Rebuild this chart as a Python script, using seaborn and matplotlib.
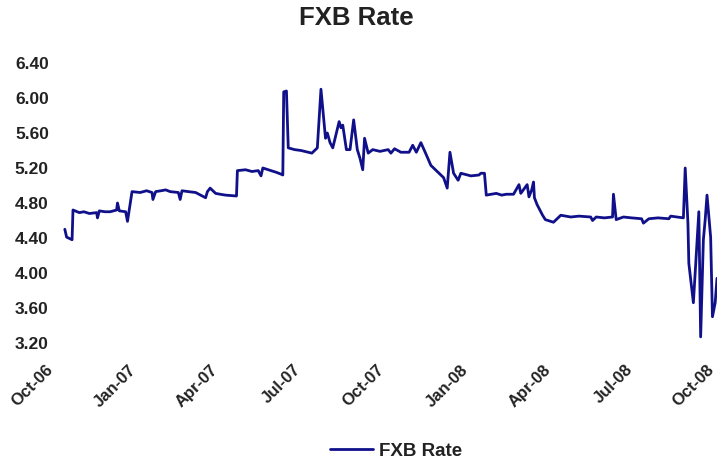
import pandas as pd
import numpy as np
import matplotlib
matplotlib.use("Agg")
import matplotlib.pyplot as plt
import matplotlib.dates as mdates
import matplotlib.transforms as mtransforms
import seaborn as sns

# FXB rate readings (date, value)
dates = [
    "2006-10-14", "2006-10-16", "2006-10-22", "2006-10-23", "2006-10-30", "2006-11-04",
    "2006-11-10", "2006-11-18", "2006-11-19", "2006-11-21", "2006-11-27", "2006-12-03",
    "2006-12-10", "2006-12-11", "2006-12-13", "2006-12-20", "2006-12-22", "2006-12-27",
    "2007-01-05", "2007-01-12", "2007-01-18", "2007-01-19", "2007-01-22", "2007-01-28",
    "2007-02-02", "2007-02-07", "2007-02-16", "2007-02-18", "2007-02-20", "2007-02-27",
    "2007-03-07", "2007-03-18", "2007-03-20", "2007-03-23", "2007-03-29", "2007-04-03",
    "2007-04-09", "2007-04-21", "2007-04-22", "2007-05-01", "2007-05-08", "2007-05-15",
    "2007-05-18", "2007-05-20", "2007-05-29", "2007-06-04", "2007-06-09", "2007-06-11",
    "2007-06-12", "2007-06-15", "2007-06-17", "2007-06-24", "2007-07-01", "2007-07-13",
    "2007-07-19", "2007-07-23", "2007-07-28", "2007-07-30", "2007-08-02", "2007-08-05",
    "2007-08-12", "2007-08-14", "2007-08-16", "2007-08-20", "2007-08-24", "2007-08-28",
    "2007-09-01", "2007-09-04", "2007-09-07", "2007-09-09", "2007-09-13", "2007-09-18",
    "2007-09-26", "2007-10-05", "2007-10-08", "2007-10-12", "2007-10-19", "2007-10-28",
    "2007-11-01", "2007-11-05", "2007-11-10", "2007-11-16", "2007-11-21", "2007-11-29",
    "2007-12-05", "2007-12-09", "2007-12-12", "2007-12-16", "2007-12-21", "2007-12-24",
    "2008-01-04", "2008-01-13", "2008-01-15", "2008-01-19", "2008-01-21", "2008-02-01",
    "2008-02-07", "2008-02-12", "2008-02-20", "2008-02-26", "2008-02-28", "2008-03-06",
    "2008-03-08", "2008-03-11", "2008-03-13", "2008-03-14", "2008-03-17", "2008-03-23",
    "2008-03-26", "2008-04-04", "2008-04-12", "2008-04-23", "2008-05-02", "2008-05-15",
    "2008-05-17", "2008-05-21", "2008-05-30", "2008-06-08", "2008-06-09", "2008-06-12",
    "2008-06-20", "2008-06-29", "2008-07-10", "2008-07-12", "2008-07-18", "2008-07-28",
    "2008-08-09", "2008-08-11", "2008-08-25", "2008-08-27", "2008-08-30", "2008-08-31",
    "2008-09-05", "2008-09-11", "2008-09-13", "2008-09-16", "2008-09-18", "2008-09-20",
    "2008-09-24", "2008-09-26", "2008-09-29", "2008-10-01",
]
rates = [
    4.50, 4.41, 4.38, 4.72, 4.69, 4.70,
    4.68, 4.69, 4.63, 4.71, 4.70, 4.70,
    4.72, 4.80, 4.71, 4.70, 4.59, 4.93,
    4.92, 4.94, 4.92, 4.84, 4.93, 4.94,
    4.95, 4.93, 4.92, 4.84, 4.94, 4.93,
    4.92, 4.86, 4.93, 4.97, 4.91, 4.90,
    4.89, 4.88, 5.17, 5.18, 5.16, 5.17,
    5.11, 5.20, 5.17, 5.15, 5.13, 5.12,
    6.07, 6.08, 5.43, 5.41, 5.40, 5.37,
    5.43, 6.10, 5.54, 5.60, 5.49, 5.43,
    5.73, 5.66, 5.69, 5.41, 5.41, 5.75,
    5.41, 5.31, 5.18, 5.54, 5.37, 5.41,
    5.39, 5.41, 5.37, 5.42, 5.38, 5.38,
    5.46, 5.38, 5.49, 5.35, 5.23, 5.15,
    5.09, 4.97, 5.38, 5.14, 5.06, 5.14,
    5.11, 5.12, 5.14, 5.14, 4.89, 4.91,
    4.89, 4.90, 4.90, 5.01, 4.91, 5.01,
    4.87, 4.95, 5.04, 4.86, 4.78, 4.66,
    4.61, 4.58, 4.66, 4.64, 4.65, 4.64,
    4.60, 4.64, 4.63, 4.64, 4.90, 4.61,
    4.64, 4.63, 4.62, 4.57, 4.62, 4.63,
    4.62, 4.65, 4.63, 5.20, 4.57, 4.11,
    3.66, 4.70, 3.27, 4.38, 4.61, 4.89,
    4.41, 3.50, 3.66, 3.94,
]
y_ticks = [3.20, 3.60, 4.00, 4.40, 4.80, 5.20, 5.60, 6.00, 6.40]

df = pd.DataFrame({"Date": pd.to_datetime(dates), "FXB Rate": rates})

sns.set_style("white")
plt.rcParams["font.family"] = ["Liberation Sans", "DejaVu Sans"]
navy = "#10108a"
text_color = "#222222"

fig = plt.figure(figsize=(7.18, 4.66), dpi=100)
ax = fig.add_axes([53 / 718, 123 / 466, 664 / 718, 280 / 466])

sns.lineplot(data=df, x="Date", y="FXB Rate", ax=ax, color=navy,
             linewidth=2.0, label="FXB Rate", legend=False)

ax.set_xlim(pd.Timestamp("2006-10-01"), pd.Timestamp("2008-10-01"))
ax.set_ylim(3.2, 6.4)
ax.set_yticks(y_ticks)
ax.set_yticklabels([f"{v:.2f}" for v in y_ticks], fontsize=12.5,
                   fontweight="bold", color=text_color)
ax.xaxis.set_major_locator(mdates.MonthLocator(bymonth=[1, 4, 7, 10]))
ax.xaxis.set_major_formatter(mdates.DateFormatter("%b-%y"))
ax.tick_params(axis="y", length=0, pad=3)
ax.tick_params(axis="x", length=0, pad=13)
# nudge rotated labels left so their ends sit on the ticks
xlabels = ax.get_xticklabels()
for i, lbl in enumerate(xlabels):
    dx = -8 if i < len(xlabels) - 1 else -11  # keep the last one inside the figure
    shift = mtransforms.ScaledTranslation(dx / 100, -1 / 100, fig.dpi_scale_trans)
    lbl.set_rotation(45)
    lbl.set_ha("right")
    lbl.set_rotation_mode("anchor")
    lbl.set_fontsize(12)
    lbl.set_fontweight("bold")
    lbl.set_color(text_color)
    lbl.set_transform(lbl.get_transform() + shift)

ax.set_xlabel("")
ax.set_ylabel("")
for s in ax.spines.values():
    s.set_visible(False)

fig.text(356 / 718, 1 - 18 / 466, "FXB Rate", ha="center", va="center",
         fontsize=18.5, fontweight="bold", color=text_color)

handles, labels = ax.get_legend_handles_labels()
leg = fig.legend(handles, labels, loc="center", bbox_to_anchor=(396 / 718, 1 - 451 / 466),
                 frameon=False, handlelength=2.3, handletextpad=0.3,
                 prop={"weight": "bold", "size": 13.5})
for t in leg.get_texts():
    t.set_color(text_color)

fig.savefig("out.png", dpi=100)
